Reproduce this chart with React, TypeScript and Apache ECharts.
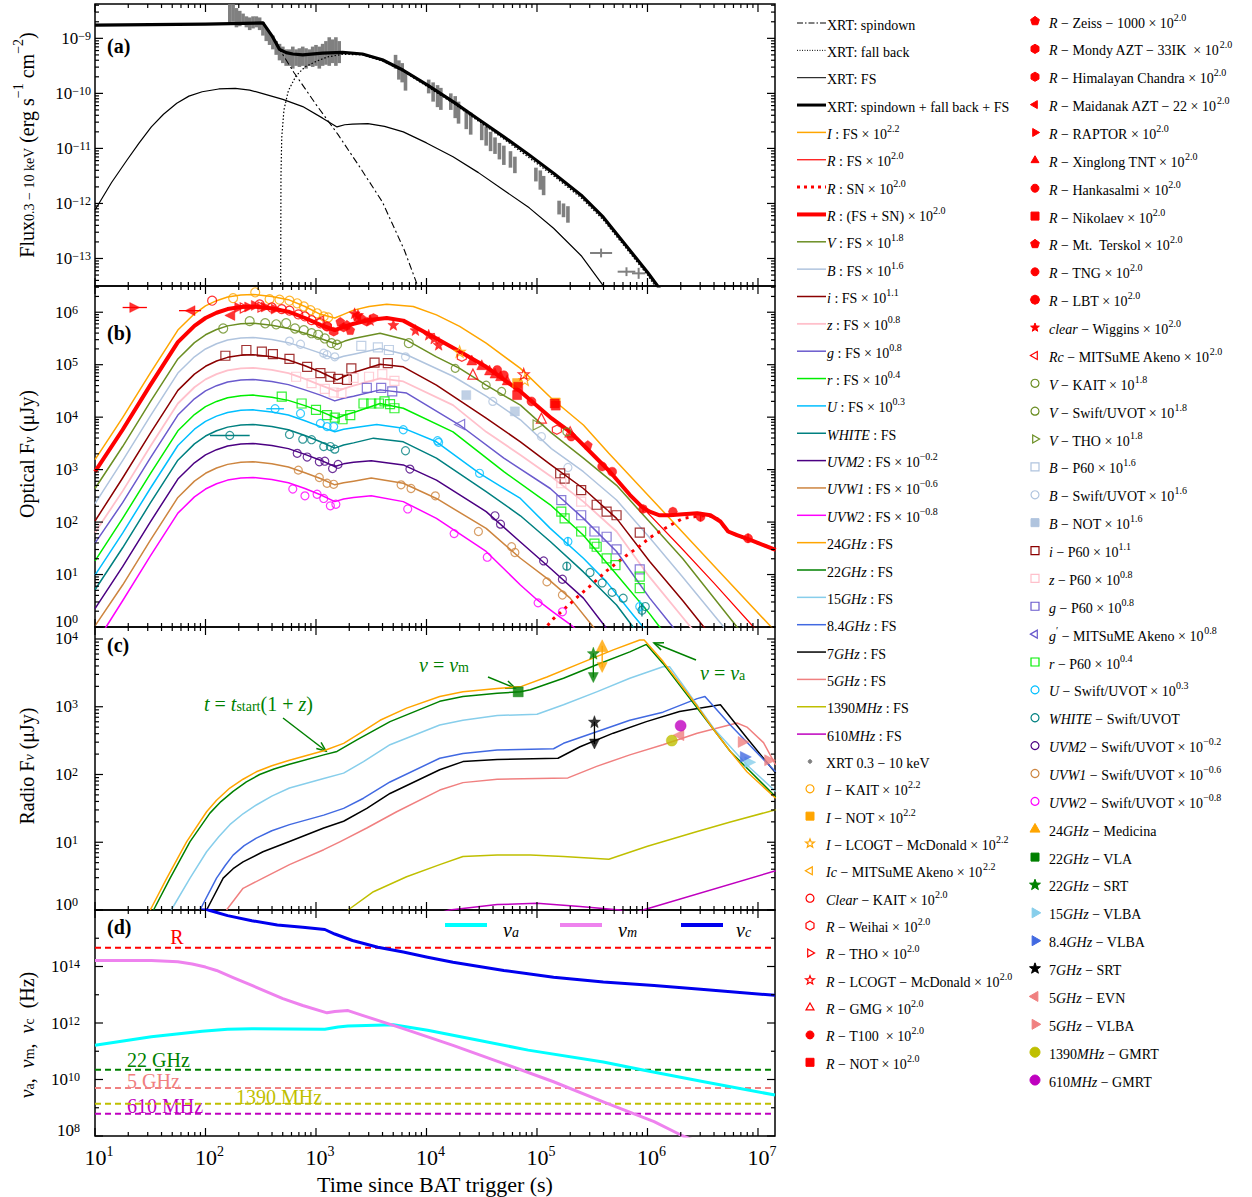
import React, { useEffect, useRef } from "react";
import * as echarts from "echarts";

const SERIF = "'Liberation Serif', 'DejaVu Serif', serif";

// ---------- layout of the four stacked panels ----------
const X_LOG_RANGE = [1, 7.154];
const Y_LOG_RANGES = [[-13.5, -8.376], [0, 6.5], [0, 4.177], [8, 16]];
const PANEL_TOPS = [4, 286, 627, 910];
const PANEL_HEIGHTS = [282, 341, 283, 226];
const PLOT_LEFT = 95;
const PLOT_WIDTH = 680;
const Y_LABEL_GAP = [4, 17, 17, 15];

const COL = {
  orange: "#ffa500", red: "#ff0000", olive: "#6b8e23", lsb: "#b0c4de", darkred: "#8b0000",
  pink: "#ffc0cb", slate: "#6a5acd", lime: "#00ee00", dsb: "#00bfff", teal: "#008080",
  indigo: "#4b0082", peru: "#cd853f", magenta: "#ff00ff", green: "#008000", sky: "#87ceeb",
  royal: "#4169e1", coral: "#f08080", yel: "#bfbf00", mag2: "#bf00bf", gray: "#808080",
  cyan: "#00ffff", violet: "#ee82ee", blue: "#0000ee",
};

// ---------- DATA (log10 t [s], log10 value) ----------
// Panel (a): X-ray model curves
const XRT_SPINDOWN = [[1, -8.76], [2, -8.74], [2.52, -8.72], [2.6, -8.95], [2.67, -9.2], [2.8, -9.62], [3.0, -10.2], [3.2, -10.75], [3.4, -11.35], [3.6, -11.97], [3.8, -12.85], [3.93, -13.55]];
const XRT_FALLBACK = [[2.68, -13.6], [2.683, -11.5], [2.69, -10.8], [2.71, -10.3], [2.75, -9.95], [2.82, -9.68], [2.9, -9.52], [3.0, -9.42], [3.1, -9.34], [3.24, -9.29], [3.42, -9.3], [3.6, -9.41], [3.79, -9.6], [4.01, -9.88], [4.24, -10.18], [4.7, -10.83], [5.15, -11.5], [5.4, -11.9], [5.6, -12.3], [5.8, -12.8], [6.0, -13.3], [6.1, -13.6]];
const XRT_FS = [[1, -12.12], [1.15, -11.62], [1.29, -11.21], [1.4, -10.9], [1.51, -10.61], [1.62, -10.38], [1.74, -10.18], [1.85, -10.05], [1.97, -9.97], [2.12, -9.92], [2.27, -9.91], [2.4, -9.94], [2.51, -10.0], [2.7, -10.11], [2.88, -10.24], [3.06, -10.45], [3.19, -10.61], [3.26, -10.57], [3.33, -10.56], [3.47, -10.55], [3.62, -10.6], [3.79, -10.7], [4.0, -10.9], [4.24, -11.15], [4.47, -11.44], [4.7, -11.76], [4.93, -12.08], [5.15, -12.45], [5.4, -12.95], [5.62, -13.55]];
const XRT_TOTAL = [[1, -8.76], [2, -8.74], [2.52, -8.72], [2.6, -8.95], [2.67, -9.2], [2.73, -9.26], [2.79, -9.285], [2.88, -9.3], [3.06, -9.27], [3.24, -9.255], [3.42, -9.285], [3.6, -9.39], [3.79, -9.58], [4.01, -9.85], [4.24, -10.15], [4.47, -10.47], [4.7, -10.79], [4.93, -11.12], [5.15, -11.45], [5.4, -11.85], [5.6, -12.25], [5.8, -12.75], [6.0, -13.25], [6.11, -13.55]];
// XRT data: [log t, log flux low, log flux high]
const XRT_DATA = [[2.22, -8.75, -8.38], [2.25, -8.7, -8.38], [2.28, -8.8, -8.45], [2.31, -8.78, -8.5], [2.34, -8.75, -8.55], [2.37, -8.8, -8.6], [2.4, -8.85, -8.62], [2.43, -8.82, -8.6], [2.46, -8.8, -8.6], [2.49, -8.85, -8.62], [2.52, -8.95, -8.7], [2.55, -9.05, -8.8], [2.58, -9.12, -8.9], [2.61, -9.2, -8.95], [2.64, -9.3, -9.05], [2.67, -9.4, -9.1], [2.7, -9.45, -9.15], [2.73, -9.5, -9.2], [2.76, -9.5, -9.2], [2.79, -9.55, -9.15], [2.82, -9.5, -9.2], [2.85, -9.52, -9.18], [2.88, -9.5, -9.15], [2.91, -9.55, -9.18], [2.94, -9.5, -9.2], [2.97, -9.52, -9.15], [3.0, -9.5, -9.12], [3.03, -9.55, -9.15], [3.06, -9.5, -9.1], [3.09, -9.48, -9.05], [3.12, -9.5, -8.98], [3.15, -9.45, -9.02], [3.18, -9.5, -8.98], [3.21, -9.45, -9.05], [3.72, -9.55, -9.3], [3.75, -9.75, -9.4], [3.78, -9.8, -9.45], [3.81, -9.95, -9.6], [4.02, -10.0, -9.75], [4.06, -10.15, -9.8], [4.1, -10.25, -9.85], [4.13, -10.3, -9.9], [4.22, -10.3, -10.0], [4.26, -10.45, -10.05], [4.29, -10.55, -10.15], [4.36, -10.65, -10.3], [4.4, -10.75, -10.35], [4.5, -10.85, -10.55], [4.54, -10.95, -10.6], [4.58, -11.05, -10.7], [4.62, -11.1, -10.8], [4.66, -11.2, -10.9], [4.7, -11.3, -10.95], [4.76, -11.35, -11.05], [4.8, -11.45, -11.15], [4.99, -11.6, -11.35], [5.03, -11.75, -11.4], [5.06, -11.85, -11.5], [5.2, -12.2, -11.95], [5.24, -12.25, -12.0], [5.28, -12.35, -12.05]];
// late XRT points with errors: [log t, log F, d log t, d log F]
const XRT_LATE = [[5.58, -12.9, 0.1, 0.08], [5.81, -13.24, 0.08, 0.08], [5.92, -13.27, 0.06, 0.1]];

// Panel (b): optical model curves
const FS_I = [[1, 3.19], [1.25, 3.99], [1.5, 4.84], [1.75, 5.66], [1.9, 5.97], [2, 6.12], [2.1, 6.22], [2.2, 6.29], [2.32, 6.33], [2.43, 6.34], [2.6, 6.3], [2.75, 6.24], [2.9, 6.11], [3.04, 5.96], [3.17, 5.89], [3.25, 5.96], [3.34, 6.04], [3.48, 6.11], [3.64, 6.15], [3.88, 6.11], [4.09, 5.95], [4.3, 5.73], [4.54, 5.41], [4.85, 4.93], [5.13, 4.36], [5.42, 3.85], [5.65, 3.31], [6.02, 2.48], [6.32, 1.8], [6.63, 1.1], [7.12, 0], [7.2, -0.18]];
const FS_R = [[1, 2.96], [1.25, 3.76], [1.5, 4.61], [1.75, 5.43], [1.9, 5.74], [2, 5.89], [2.1, 5.99], [2.2, 6.06], [2.32, 6.1], [2.43, 6.11], [2.6, 6.07], [2.75, 6.01], [2.9, 5.89], [3.04, 5.76], [3.17, 5.66], [3.25, 5.72], [3.34, 5.78], [3.48, 5.85], [3.64, 5.89], [3.79, 5.84], [4.09, 5.5], [4.3, 5.25], [4.54, 4.96], [4.85, 4.49], [5.13, 3.98], [5.3, 3.72], [5.48, 3.34], [5.66, 2.96], [5.84, 2.52], [5.95, 2.29], [6.3, 1.52], [6.6, 0.84], [6.96, 0], [7.05, -0.2]];
const SN_R = [[5.0, -0.2], [5.15, 0.16], [5.24, 0.33], [5.37, 0.58], [5.48, 0.78], [5.63, 1.07], [5.8, 1.35], [5.91, 1.51], [6.02, 1.7], [6.14, 1.86], [6.25, 1.99], [6.32, 2.07], [6.42, 2.1], [6.54, 2.13], [6.63, 2.07], [6.73, 1.82], [6.81, 1.75], [6.93, 1.66], [7.05, 1.56], [7.16, 1.47]];
const FSSN_R = [[1, 2.96], [1.25, 3.76], [1.5, 4.61], [1.75, 5.43], [1.9, 5.74], [2, 5.89], [2.1, 5.99], [2.2, 6.06], [2.32, 6.1], [2.43, 6.11], [2.6, 6.07], [2.75, 6.01], [2.9, 5.89], [3.04, 5.76], [3.17, 5.66], [3.25, 5.72], [3.34, 5.78], [3.48, 5.85], [3.64, 5.89], [3.79, 5.84], [4.09, 5.5], [4.3, 5.25], [4.54, 4.96], [4.85, 4.49], [5.13, 3.98], [5.3, 3.72], [5.48, 3.34], [5.66, 2.96], [5.84, 2.52], [5.95, 2.29], [6.02, 2.2], [6.11, 2.13], [6.2, 2.13], [6.32, 2.15], [6.45, 2.17], [6.57, 2.13], [6.66, 2.01], [6.73, 1.82], [6.81, 1.75], [6.93, 1.66], [7.05, 1.56], [7.16, 1.47]];
const FS_V = [[1, 2.64], [1.25, 3.44], [1.5, 4.29], [1.75, 5.11], [1.9, 5.42], [2, 5.57], [2.1, 5.67], [2.2, 5.74], [2.32, 5.78], [2.43, 5.79], [2.6, 5.75], [2.75, 5.69], [2.9, 5.6], [3.04, 5.5], [3.19, 5.39], [3.26, 5.45], [3.34, 5.5], [3.58, 5.6], [3.82, 5.47], [4.09, 5.15], [4.3, 4.93], [4.54, 4.61], [4.85, 4.23], [5.13, 3.7], [5.42, 3.22], [5.72, 2.7], [6.02, 2.0], [6.32, 1.3], [6.81, 0], [6.9, -0.2]];
const FS_B = [[1, 2.35], [1.25, 3.17], [1.5, 4.02], [1.75, 4.84], [1.9, 5.15], [2, 5.3], [2.1, 5.4], [2.2, 5.47], [2.32, 5.51], [2.43, 5.52], [2.6, 5.48], [2.75, 5.42], [2.9, 5.32], [3.04, 5.22], [3.17, 5.11], [3.25, 5.16], [3.34, 5.2], [3.58, 5.31], [3.82, 5.19], [4.24, 4.78], [4.54, 4.4], [4.85, 3.95], [5.13, 3.4], [5.42, 2.96], [5.72, 2.42], [6.02, 1.7], [6.32, 0.95], [6.69, 0], [6.8, -0.25]];
const FS_i = [[1, 2.02], [1.25, 2.84], [1.5, 3.69], [1.75, 4.51], [1.9, 4.82], [2, 4.97], [2.1, 5.07], [2.2, 5.14], [2.32, 5.18], [2.43, 5.19], [2.6, 5.15], [2.75, 5.09], [2.9, 4.98], [3.04, 4.86], [3.19, 4.71], [3.26, 4.78], [3.34, 4.85], [3.58, 5.01], [3.79, 4.96], [4.09, 4.61], [4.54, 3.98], [4.85, 3.53], [5.12, 3.1], [5.42, 2.64], [5.72, 2.07], [6.02, 1.25], [6.32, 0.5], [6.51, 0], [6.6, -0.2]];
const FS_z = [[1, 1.8], [1.25, 2.59], [1.5, 3.44], [1.75, 4.26], [1.9, 4.57], [2, 4.72], [2.1, 4.82], [2.2, 4.89], [2.32, 4.93], [2.43, 4.94], [2.6, 4.9], [2.75, 4.84], [2.9, 4.73], [3.04, 4.61], [3.19, 4.49], [3.26, 4.55], [3.34, 4.6], [3.58, 4.74], [3.79, 4.68], [4.24, 4.23], [4.54, 3.72], [4.85, 3.28], [5.12, 2.88], [5.42, 2.39], [5.72, 1.82], [6.02, 0.95], [6.39, 0], [6.5, -0.25]];
const FS_g = [[1, 1.6], [1.25, 2.37], [1.5, 3.22], [1.75, 4.04], [1.9, 4.35], [2, 4.5], [2.1, 4.6], [2.2, 4.67], [2.32, 4.71], [2.43, 4.72], [2.6, 4.68], [2.75, 4.62], [2.9, 4.52], [3.04, 4.42], [3.17, 4.31], [3.25, 4.36], [3.34, 4.4], [3.58, 4.52], [3.82, 4.46], [4.3, 3.85], [4.7, 3.22], [5.12, 2.64], [5.42, 2.07], [5.72, 1.44], [6.02, 0.55], [6.23, 0], [6.3, -0.2]];
const FS_r = [[1, 1.26], [1.25, 2.07], [1.5, 2.92], [1.75, 3.74], [1.9, 4.05], [2, 4.2], [2.1, 4.3], [2.2, 4.37], [2.32, 4.41], [2.43, 4.42], [2.6, 4.38], [2.75, 4.32], [2.9, 4.22], [3.04, 4.11], [3.19, 3.98], [3.26, 4.04], [3.34, 4.09], [3.58, 4.26], [3.79, 4.17], [4.24, 3.72], [4.7, 2.96], [5.12, 2.33], [5.42, 1.75], [5.72, 1.0], [6.02, 0.25], [6.11, 0], [6.2, -0.25]];
const FS_U = [[1, 0.99], [1.25, 1.79], [1.5, 2.64], [1.75, 3.46], [1.9, 3.77], [2, 3.92], [2.1, 4.02], [2.2, 4.09], [2.32, 4.13], [2.43, 4.14], [2.6, 4.1], [2.75, 4.04], [2.9, 3.93], [3.04, 3.82], [3.17, 3.72], [3.25, 3.77], [3.34, 3.8], [3.55, 3.86], [3.79, 3.79], [4.09, 3.53], [4.48, 2.93], [4.85, 2.45], [5.12, 1.88], [5.42, 1.31], [5.63, 0.86], [5.87, 0.23], [5.96, 0], [6.05, -0.25]];
const FS_WHITE = [[1, 0.71], [1.25, 1.51], [1.5, 2.36], [1.75, 3.18], [1.9, 3.49], [2, 3.64], [2.1, 3.74], [2.2, 3.81], [2.32, 3.85], [2.43, 3.86], [2.6, 3.82], [2.75, 3.76], [2.9, 3.65], [3.04, 3.53], [3.17, 3.41], [3.25, 3.47], [3.34, 3.51], [3.52, 3.6], [3.79, 3.53], [4.09, 3.22], [4.54, 2.58], [4.85, 2.12], [5.12, 1.63], [5.42, 1.05], [5.72, 0.42], [5.87, 0], [5.95, -0.2]];
const FS_UVM2 = [[1, 0.35], [1.25, 1.15], [1.5, 2.0], [1.75, 2.82], [1.9, 3.13], [2, 3.28], [2.1, 3.38], [2.2, 3.45], [2.32, 3.49], [2.43, 3.5], [2.6, 3.46], [2.75, 3.4], [2.9, 3.29], [3.04, 3.18], [3.17, 3.06], [3.25, 3.11], [3.34, 3.14], [3.5, 3.17], [3.79, 3.09], [4.09, 2.8], [4.54, 2.2], [4.85, 1.62], [5.12, 1.12], [5.42, 0.55], [5.62, 0], [5.7, -0.2]];
const FS_UVW1 = [[1, 0.02], [1.25, 0.8], [1.5, 1.65], [1.75, 2.47], [1.9, 2.78], [2, 2.93], [2.1, 3.03], [2.2, 3.1], [2.32, 3.14], [2.43, 3.15], [2.6, 3.11], [2.75, 3.05], [2.9, 2.94], [3.04, 2.83], [3.17, 2.71], [3.25, 2.75], [3.34, 2.78], [3.5, 2.84], [3.79, 2.74], [4.09, 2.45], [4.54, 1.88], [4.85, 1.31], [5.12, 0.88], [5.3, 0.55], [5.51, 0], [5.6, -0.25]];
const FS_UVW2 = [[1, -0.33], [1.1, 0], [1.25, 0.5], [1.5, 1.35], [1.75, 2.17], [1.9, 2.48], [2, 2.63], [2.1, 2.73], [2.2, 2.8], [2.32, 2.84], [2.43, 2.85], [2.6, 2.81], [2.75, 2.75], [2.9, 2.64], [3.04, 2.52], [3.17, 2.39], [3.25, 2.44], [3.34, 2.47], [3.5, 2.5], [3.79, 2.39], [4.09, 2.07], [4.54, 1.44], [4.85, 0.8], [5.0, 0.52], [5.15, 0.28], [5.3, 0.05], [5.4, -0.12]];

// Panel (b): optical observations
const I_KAIT = [[2.25, 6.27], [2.45, 6.38], [2.58, 6.25], [2.67, 6.24], [2.76, 6.22], [2.83, 6.17], [2.89, 6.11], [2.95, 6.04], [3.01, 5.98], [3.07, 5.92], [3.11, 5.9]];
const I_NOT = [[4.82, 4.65], [5.17, 4.28]];
const I_LCOGT = [[4.3, 5.25], [4.89, 4.71]];
const CLEAR_KAIT = [[2.06, 6.22], [2.49, 6.15], [2.6, 6.09], [2.69, 6.06], [2.76, 6.03], [2.84, 5.96], [2.9, 5.92], [2.96, 5.85], [3.04, 5.79], [3.1, 5.73]];
const R_WEIHAI = [[4.32, 5.15], [5.18, 3.76]];
const R_THO = [[2.36, 6.08], [2.52, 6.1]];
const R_LCOGT = [[4.88, 4.82]];
const R_GMG = [[4.42, 4.82], [5.04, 3.98], [5.3, 3.72]];
const R_T100 = [[4.64, 4.9], [4.7, 4.8], [5.31, 3.63], [5.59, 3.06], [5.68, 2.96]];
const R_NOT = [[4.83, 4.58], [4.82, 4.42], [5.16, 4.26]];
const R_ZEISS = [[3.22, 5.82], [3.28, 5.76], [3.31, 5.66], [3.37, 5.92], [3.41, 5.89]];
const R_MONDY = [[3.1, 5.73], [3.16, 5.63], [3.25, 5.71]];
const R_HIMALAYAN = [[3.46, 5.82], [3.52, 5.89]];
const R_MAIDANAK = [[1.86, 6.03], [2.22, 5.94]];
const R_RAPTOR = [[1.36, 6.09], [2.31, 6.09], [2.4, 6.1], [2.46, 6.13], [2.55, 6.1], [2.64, 6.06]];
const R_XINGLONG = [[4.41, 5.09], [4.5, 5.0], [4.57, 4.9], [4.62, 4.84], [4.67, 4.79], [4.73, 4.71]];
const R_HANKASALMI = [[4.95, 4.3]];
const R_NIKOLAEV = [[5.17, 4.22]];
const R_TERSKOL = [[5.46, 3.47]];
const R_TNG = [[6.48, 2.1], [6.91, 1.69]];
const R_LBT = [[5.96, 2.25], [6.23, 2.2]];
const CLEAR_WIGGINS = [[3.35, 5.98], [3.38, 5.95], [3.49, 5.85], [3.7, 5.76], [3.9, 5.66], [4.02, 5.57], [4.07, 5.5], [4.11, 5.38]];
const RC_MITSUME = [[3.02, 5.83]];
const V_KAIT = [[2.16, 5.69], [2.4, 5.83], [2.54, 5.79], [2.64, 5.77], [2.73, 5.79], [2.81, 5.69], [2.89, 5.66], [2.96, 5.6], [3.02, 5.57], [3.08, 5.5], [3.14, 5.41], [3.19, 5.38], [3.84, 5.41]];
const V_SWIFT = [[4.26, 4.93], [4.54, 4.61], [4.68, 4.49], [5.27, 3.72]];
const V_THO = [[5.01, 3.85]];
const B_P60 = [[3.41, 5.36], [3.56, 5.33], [3.66, 5.28]];
const B_SWIFT = [[2.76, 5.45], [2.86, 5.39], [3.07, 5.22], [3.1, 5.19], [3.17, 5.15], [3.81, 5.15], [4.6, 4.3], [5.04, 3.63], [5.28, 3.04]];
const B_NOT = [[4.36, 4.42], [4.8, 4.11]];
const i_P60 = [[2.18, 5.17], [2.37, 5.28], [2.51, 5.25], [2.61, 5.2], [2.76, 5.11], [2.92, 4.96], [3.04, 4.84], [3.13, 4.77], [3.2, 4.73], [3.28, 4.71], [3.32, 4.93], [3.53, 5.04], [3.65, 5.03], [5.21, 2.93], [5.25, 2.83], [5.4, 2.61], [5.54, 2.33], [5.63, 2.2], [5.72, 2.13], [5.93, 1.8]];
const z_P60 = [[2.82, 4.77], [2.96, 4.65], [3.08, 4.54], [3.16, 4.47], [3.23, 4.46], [3.34, 4.75], [3.48, 4.77], [3.6, 4.82], [3.71, 4.69], [5.22, 2.74], [5.4, 2.39]];
const g_P60 = [[3.46, 4.56], [3.59, 4.56], [3.69, 4.49], [5.22, 2.42], [5.4, 2.13], [5.52, 1.82], [5.63, 1.72], [5.72, 1.48], [5.93, 1.1]];
const g_MITSUME = [[4.3, 3.86]];
const r_P60 = [[2.69, 4.39], [2.87, 4.26], [3.0, 4.14], [3.1, 4.04], [3.17, 3.99], [3.24, 3.96], [3.31, 4.04], [3.43, 4.26], [3.5, 4.26], [3.57, 4.26], [3.62, 4.3], [3.67, 4.25], [3.71, 4.17], [5.22, 2.2], [5.25, 2.07], [5.4, 1.82], [5.52, 1.59], [5.54, 1.53], [5.63, 1.31], [5.71, 1.18], [5.93, 0.96], [5.93, 0.74]];
const U_SWIFT = [[2.63, 4.16], [2.86, 4.07], [3.04, 3.88], [3.1, 3.82], [3.16, 3.82], [3.79, 3.76], [4.1, 3.55], [4.11, 3.52], [4.48, 2.93], [5.28, 1.63], [5.93, 0.39]];
const WHITE_SWIFT = [[2.22, 3.65], [2.76, 3.67], [2.88, 3.58], [2.96, 3.57], [3.07, 3.44], [3.13, 3.44], [3.17, 3.39], [3.81, 3.36], [5.27, 1.16], [5.48, 1.04], [5.59, 0.84], [5.68, 0.66], [5.78, 0.55], [5.98, 0.39], [5.95, 0.32]];
const UVM2_SWIFT = [[2.83, 3.31], [2.92, 3.24], [3.03, 3.15], [3.08, 3.16], [3.15, 3.02], [3.2, 3.1], [3.85, 3.01], [4.62, 2.12], [4.67, 1.96], [5.06, 1.26], [5.23, 0.91]];
const UVW1_SWIFT = [[2.84, 2.99], [3.03, 2.85], [3.1, 2.74], [3.16, 2.72], [3.77, 2.71], [3.86, 2.64], [4.08, 2.5], [4.47, 1.82], [4.77, 1.53], [4.8, 1.42], [5.09, 0.86], [5.23, 0.61]];
const UVW2_SWIFT = [[2.79, 2.63], [2.9, 2.5], [3.01, 2.53], [3.07, 2.45], [3.13, 2.31], [3.18, 2.34], [3.83, 2.25], [4.25, 1.78], [4.55, 1.33], [5.01, 0.46], [5.23, 0.29]];
// error bars [log t, log F, d log t, d log F]
const OPT_ERR_RED = [[1.36, 6.09, 0.11, 0], [1.86, 6.03, 0.1, 0], [6.48, 2.1, 0, 0.09], [6.91, 1.69, 0, 0.09], [5.96, 2.25, 0, 0.06]];
const OPT_ERR_DSB = [[2.63, 4.16, 0.08, 0], [5.28, 1.63, 0, 0.08], [5.93, 0.39, 0, 0.12]];
const OPT_ERR_TEAL = [[2.22, 3.65, 0.18, 0], [5.27, 1.16, 0, 0.08], [5.95, 0.32, 0, 0.12]];

// Panel (c): radio model curves
const R24 = [[1.5, 0], [1.65, 0.47], [1.83, 1.01], [2.01, 1.45], [2.1, 1.62], [2.22, 1.8], [2.34, 1.93], [2.46, 2.04], [2.6, 2.13], [2.76, 2.21], [3.07, 2.35], [3.25, 2.46], [3.37, 2.58], [3.58, 2.8], [3.82, 2.98], [4.12, 3.15], [4.33, 3.22], [4.64, 3.27], [4.86, 3.3], [5.09, 3.44], [5.39, 3.64], [5.69, 3.84], [5.93, 3.985], [5.97, 3.985], [6.14, 3.67], [6.29, 3.35], [6.45, 3.01], [6.6, 2.66], [6.75, 2.34], [6.9, 2.04], [7.16, 1.65]];
const R22 = [[1.53, 0], [1.68, 0.47], [1.86, 1.01], [2.04, 1.43], [2.14, 1.6], [2.25, 1.75], [2.37, 1.89], [2.49, 2.0], [2.62, 2.08], [2.76, 2.15], [3.07, 2.29], [3.19, 2.34], [3.37, 2.51], [3.67, 2.78], [4.12, 3.08], [4.33, 3.15], [4.64, 3.2], [4.85, 3.22], [4.94, 3.25], [5.24, 3.42], [5.54, 3.62], [5.84, 3.81], [5.99, 3.92], [6.14, 3.64], [6.45, 2.98], [6.75, 2.34], [7.16, 1.67]];
const R15 = [[1.69, 0], [1.86, 0.47], [2.01, 0.86], [2.12, 1.08], [2.22, 1.26], [2.34, 1.42], [2.46, 1.55], [2.6, 1.68], [2.76, 1.8], [3.07, 1.94], [3.25, 2.02], [3.43, 2.19], [3.67, 2.44], [4.12, 2.73], [4.33, 2.8], [4.64, 2.87], [5.0, 2.89], [5.24, 3.03], [5.54, 3.22], [5.84, 3.42], [6.14, 3.59], [6.2, 3.59], [6.32, 3.32], [6.6, 2.68], [6.9, 2.14], [7.16, 1.75]];
const R84 = [[1.95, 0], [2.1, 0.47], [2.18, 0.66], [2.25, 0.81], [2.35, 0.95], [2.46, 1.06], [2.6, 1.17], [2.76, 1.26], [3.07, 1.4], [3.25, 1.5], [3.43, 1.65], [3.67, 1.89], [4.12, 2.24], [4.33, 2.31], [4.64, 2.36], [5.15, 2.38], [5.24, 2.46], [5.54, 2.63], [5.84, 2.8], [6.14, 2.92], [6.45, 3.12], [6.52, 3.15], [6.75, 2.73], [7.05, 2.22], [7.16, 2.04]];
const R7 = [[2.01, 0], [2.16, 0.47], [2.25, 0.61], [2.34, 0.71], [2.52, 0.86], [2.76, 1.01], [3.07, 1.21], [3.25, 1.31], [3.46, 1.5], [3.67, 1.72], [4.12, 2.07], [4.33, 2.19], [4.64, 2.22], [5.19, 2.24], [5.39, 2.41], [5.69, 2.61], [5.99, 2.78], [6.29, 2.93], [6.66, 3.03], [6.9, 2.54], [7.16, 2.02]];
const R5 = [[2.19, 0], [2.34, 0.32], [2.52, 0.47], [2.76, 0.67], [3.07, 0.89], [3.22, 1.01], [3.46, 1.21], [3.73, 1.45], [4.12, 1.77], [4.33, 1.88], [4.64, 1.93], [5.28, 1.95], [5.54, 2.12], [5.84, 2.29], [6.14, 2.44], [6.45, 2.61], [6.81, 2.76], [6.9, 2.7], [7.05, 2.47], [7.16, 2.14]];
const R1390 = [[3.29, 0], [3.52, 0.27], [3.82, 0.49], [4.12, 0.67], [4.33, 0.79], [4.64, 0.81], [4.94, 0.81], [5.24, 0.79], [5.65, 0.75], [6.0, 0.94], [6.45, 1.16], [6.75, 1.3], [7.16, 1.48]];
const R610 = [[4.1, -0.05], [4.21, 0], [4.64, 0.08], [5.0, 0.1], [5.39, 0.05], [5.75, 0], [5.86, -0.06], [5.96, 0], [7.16, 0.58]];
// radio observations
const MEDICINA_24 = [[5.59, 3.9]];
const VLA_22 = [[4.83, 3.22]];
const SRT_22 = [[5.51, 3.79]];
const VLBA_15 = [[6.93, 2.18]];
const VLBA_84 = [[6.89, 2.26]];
const SRT_7 = [[5.52, 2.78]];
const EVN_5 = [[6.28, 2.58]];
const VLBA_5 = [[6.87, 2.48], [7.11, 2.21]];
const GMRT_1390 = [[6.22, 2.5]];
const GMRT_610 = [[6.3, 2.72]];
// upper-limit style arrows: [log t, log F from, log F to]
const MEDICINA_ARROW = [[5.59, 3.9, 3.58]];
const SRT22_ARROW = [[5.51, 3.79, 3.43]];
const SRT7_ARROW = [[5.52, 2.78, 2.45]];

// Panel (d): break frequencies
const NU_A = [[1, 11.21], [1.51, 11.51], [1.97, 11.71], [2.2, 11.78], [2.42, 11.8], [3.08, 11.78], [3.2, 11.86], [3.29, 11.89], [3.7, 11.94], [4.01, 11.74], [4.47, 11.39], [4.92, 11.04], [5.6, 10.62], [5.97, 10.33], [6.51, 9.92], [7.154, 9.45]];
const NU_M = [[1, 14.21], [1.51, 14.21], [1.75, 14.17], [1.88, 14.09], [2.0, 13.98], [2.1, 13.86], [2.25, 13.61], [2.42, 13.33], [2.7, 12.86], [2.88, 12.62], [3.1, 12.36], [3.17, 12.41], [3.29, 12.44], [3.42, 12.27], [3.79, 11.8], [4.24, 11.21], [4.7, 10.56], [5.15, 9.92], [5.6, 9.21], [6.06, 8.51], [6.32, 8.0], [6.4, 7.88]];
const NU_C = [[1.95, 16.1], [2.04, 15.98], [2.2, 15.8], [2.42, 15.62], [2.65, 15.47], [2.88, 15.39], [3.08, 15.31], [3.17, 15.15], [3.33, 14.92], [3.56, 14.68], [3.79, 14.51], [4.01, 14.33], [4.24, 14.15], [4.7, 13.86], [5.15, 13.62], [5.6, 13.45], [6.06, 13.33], [6.51, 13.19], [7.154, 12.98]];
const BAND_FREQS = [14.66, 10.342, 9.699, 9.143, 8.785]; // R, 22 GHz, 5 GHz, 1390 MHz, 610 MHz (log Hz)
const BAND_COLORS = [COL.red, COL.green, COL.coral, COL.yel, COL.mag2];

// ---------- helpers ----------
const pw = (v: number) => Math.pow(10, v);
const L = (arr: number[][]) => arr.map((p) => [pw(p[0]), pw(p[1])]);

const regPts = (n: number, r = 1) => Array.from({ length: n }, (_, k) => {
  const a = (-90 + (360 / n) * k) * Math.PI / 180;
  return [r * Math.cos(a), r * Math.sin(a)];
});
const starPts = () => Array.from({ length: 10 }, (_, k) => {
  const a = (-90 + 36 * k) * Math.PI / 180;
  const r = k % 2 === 0 ? 1 : 0.42;
  return [r * Math.cos(a), r * Math.sin(a)];
});
const SHAPES: Record<string, number[][]> = {
  triU: [[0, -1], [0.866, 0.5], [-0.866, 0.5]],
  triD: [[0, 1], [0.866, -0.5], [-0.866, -0.5]],
  triL: [[-1, 0], [0.5, -0.866], [0.5, 0.866]],
  triR: [[1, 0], [-0.5, -0.866], [-0.5, 0.866]],
  star: starPts(),
  pent: regPts(5),
  hex: regPts(6),
  oct: regPts(8),
};
const polyPath = (pts: number[][]) => "path://" + pts.map((p, i) => (i ? "L" : "M") + (p[0] * 10).toFixed(2) + "," + (p[1] * 10).toFixed(2)).join("") + "Z";
const symbolFor = (k: string) => (k === "circle" ? "circle" : k === "square" ? "rect" : polyPath(SHAPES[k]));

function rich(fs: number, color = "#000", lhf = 1.25) {
  const lh = Math.round(fs * lhf);
  const small = Math.round(fs * 0.7);
  return {
    n: { fontSize: fs, fontFamily: SERIF, fill: color, lineHeight: lh, verticalAlign: "bottom" },
    it: { fontSize: fs, fontFamily: SERIF, fontStyle: "italic", fill: color, lineHeight: lh, verticalAlign: "bottom" },
    bo: { fontSize: fs, fontFamily: SERIF, fontWeight: "bold", fill: color, lineHeight: lh, verticalAlign: "bottom" },
    sp: { fontSize: small, fontFamily: SERIF, fill: color, lineHeight: small, verticalAlign: "top" },
    sb: { fontSize: small, fontFamily: SERIF, fill: color, lineHeight: small, verticalAlign: "bottom" },
    sbi: { fontSize: small, fontFamily: SERIF, fontStyle: "italic", fill: color, lineHeight: small, verticalAlign: "bottom" },
  };
}
const N = (t: string) => `{n|${t}}`;
const I = (t: string) => `{it|${t}}`;
const S = (t: string) => `{sp|${t}}`;
const B = (t: string) => `{sb|${t}}`;
const expStr = (e: number) => (e < 0 ? "−" + Math.abs(e) : String(e));

function seg(x1: number, y1: number, x2: number, y2: number, stroke = "#000", lineWidth = 1.2, lineDash?: number[]) {
  return { type: "line", shape: { x1, y1, x2, y2 }, style: { stroke, lineWidth, lineDash } };
}

function legSym(kind: string, cx: number, cy: number, r: number, color: string, filled: boolean) {
  const style = filled ? { fill: color, stroke: color, lineWidth: 1 } : { fill: "rgba(0,0,0,0)", stroke: color, lineWidth: 1.2 };
  if (kind === "circle") return { type: "circle", shape: { cx, cy, r }, style };
  if (kind === "square") return { type: "rect", shape: { x: cx - r, y: cy - r, width: 2 * r, height: 2 * r }, style };
  return { type: "polygon", shape: { points: SHAPES[kind].map(([a, b]) => [cx + a * r * 1.15, cy + b * r * 1.15]) }, style };
}

function arrowEls(x1: number, y1: number, x2: number, y2: number, color: string) {
  const th = Math.atan2(y2 - y1, x2 - x1);
  const hl = 10, ha = 0.4;
  const p1 = [x2 - hl * Math.cos(th - ha), y2 - hl * Math.sin(th - ha)];
  const p2 = [x2 - hl * Math.cos(th + ha), y2 - hl * Math.sin(th + ha)];
  return [
    seg(x1, y1, x2, y2, color, 1.5),
    { type: "polyline", shape: { points: [p1, [x2, y2], p2] }, style: { stroke: color, lineWidth: 1.5, fill: null } },
  ];
}

// ---------- legend entries ----------
type Leg = { t: string; line?: { c: string; w: number; d?: number[] }; sym?: { k: string; c: string; f: boolean; r?: number } };
const FSx = (band: string, e: string) => I(band) + N(" : FS × 10") + S(e);
const OBS = (band: string, name: string, e?: string) => I(band) + N(" − " + name + (e ? " × 10" : "")) + (e ? S(e) : "");
const GHZ = (num: string, unit: string, rest: string) => N(num) + I(unit) + N(rest);

const LEGEND_COL1: Leg[] = [
  { t: N("XRT: spindown"), line: { c: "#000", w: 1, d: [6, 2, 1.5, 2] } },
  { t: N("XRT: fall back"), line: { c: "#000", w: 1, d: [1, 1.5] } },
  { t: N("XRT: FS"), line: { c: "#000", w: 1 } },
  { t: N("XRT: spindown + fall back + FS"), line: { c: "#000", w: 3 } },
  { t: FSx("I", "2.2"), line: { c: COL.orange, w: 1.5 } },
  { t: FSx("R", "2.0"), line: { c: COL.red, w: 1.2 } },
  { t: I("R") + N(" : SN × 10") + S("2.0"), line: { c: COL.red, w: 3, d: [3, 4] } },
  { t: I("R") + N(" : (FS + SN) × 10") + S("2.0"), line: { c: COL.red, w: 4 } },
  { t: FSx("V", "1.8"), line: { c: COL.olive, w: 1.5 } },
  { t: FSx("B", "1.6"), line: { c: COL.lsb, w: 1.5 } },
  { t: FSx("i", "1.1"), line: { c: COL.darkred, w: 1.5 } },
  { t: FSx("z", "0.8"), line: { c: COL.pink, w: 1.8 } },
  { t: FSx("g", "0.8"), line: { c: COL.slate, w: 1.5 } },
  { t: FSx("r", "0.4"), line: { c: COL.lime, w: 1.5 } },
  { t: FSx("U", "0.3"), line: { c: COL.dsb, w: 1.5 } },
  { t: I("WHITE") + N(" : FS"), line: { c: COL.teal, w: 1.5 } },
  { t: FSx("UVM2", "−0.2"), line: { c: COL.indigo, w: 1.5 } },
  { t: FSx("UVW1", "−0.6"), line: { c: COL.peru, w: 1.5 } },
  { t: FSx("UVW2", "−0.8"), line: { c: COL.magenta, w: 1.5 } },
  { t: GHZ("24", "GHz", " : FS"), line: { c: COL.orange, w: 1.5 } },
  { t: GHZ("22", "GHz", " : FS"), line: { c: COL.green, w: 1.5 } },
  { t: GHZ("15", "GHz", " : FS"), line: { c: COL.sky, w: 1.5 } },
  { t: GHZ("8.4", "GHz", " : FS"), line: { c: COL.royal, w: 1.5 } },
  { t: GHZ("7", "GHz", " : FS"), line: { c: "#000", w: 1.5 } },
  { t: GHZ("5", "GHz", " : FS"), line: { c: COL.coral, w: 1.5 } },
  { t: GHZ("1390", "MHz", " : FS"), line: { c: COL.yel, w: 1.5 } },
  { t: GHZ("610", "MHz", " : FS"), line: { c: COL.mag2, w: 1.5 } },
  { t: N("XRT 0.3 − 10 keV"), sym: { k: "circle", c: COL.gray, f: true, r: 1.8 } },
  { t: OBS("I", "KAIT", "2.2"), sym: { k: "circle", c: COL.orange, f: false } },
  { t: OBS("I", "NOT", "2.2"), sym: { k: "square", c: COL.orange, f: true } },
  { t: OBS("I", "LCOGT − McDonald", "2.2"), sym: { k: "star", c: COL.orange, f: false } },
  { t: OBS("Ic", "MITSuME Akeno", "2.2"), sym: { k: "triL", c: COL.orange, f: false } },
  { t: OBS("Clear", "KAIT", "2.0"), sym: { k: "circle", c: COL.red, f: false } },
  { t: OBS("R", "Weihai", "2.0"), sym: { k: "hex", c: COL.red, f: false } },
  { t: OBS("R", "THO", "2.0"), sym: { k: "triR", c: COL.red, f: false } },
  { t: OBS("R", "LCOGT − McDonald", "2.0"), sym: { k: "star", c: COL.red, f: false } },
  { t: OBS("R", "GMG", "2.0"), sym: { k: "triU", c: COL.red, f: false } },
  { t: OBS("R", "T100 ", "2.0"), sym: { k: "circle", c: COL.red, f: true } },
  { t: OBS("R", "NOT", "2.0"), sym: { k: "square", c: COL.red, f: true } },
];
const LEGEND_COL2: Leg[] = [
  { t: OBS("R", "Zeiss − 1000", "2.0"), sym: { k: "pent", c: COL.red, f: true } },
  { t: OBS("R", "Mondy AZT − 33IK ", "2.0"), sym: { k: "hex", c: COL.red, f: true } },
  { t: OBS("R", "Himalayan Chandra", "2.0"), sym: { k: "hex", c: COL.red, f: true } },
  { t: OBS("R", "Maidanak AZT − 22", "2.0"), sym: { k: "triL", c: COL.red, f: true } },
  { t: OBS("R", "RAPTOR", "2.0"), sym: { k: "triR", c: COL.red, f: true } },
  { t: OBS("R", "Xinglong TNT", "2.0"), sym: { k: "triU", c: COL.red, f: true } },
  { t: OBS("R", "Hankasalmi", "2.0"), sym: { k: "circle", c: COL.red, f: true } },
  { t: OBS("R", "Nikolaev", "2.0"), sym: { k: "square", c: COL.red, f: true } },
  { t: OBS("R", "Mt.  Terskol", "2.0"), sym: { k: "pent", c: COL.red, f: true } },
  { t: OBS("R", "TNG", "2.0"), sym: { k: "circle", c: COL.red, f: true } },
  { t: OBS("R", "LBT", "2.0"), sym: { k: "oct", c: COL.red, f: true } },
  { t: OBS("clear", "Wiggins", "2.0"), sym: { k: "star", c: COL.red, f: true } },
  { t: OBS("Rc", "MITSuME Akeno", "2.0"), sym: { k: "triL", c: COL.red, f: false } },
  { t: OBS("V", "KAIT", "1.8"), sym: { k: "circle", c: COL.olive, f: false } },
  { t: OBS("V", "Swift/UVOT", "1.8"), sym: { k: "circle", c: COL.olive, f: false } },
  { t: OBS("V", "THO", "1.8"), sym: { k: "triR", c: COL.olive, f: false } },
  { t: OBS("B", "P60", "1.6"), sym: { k: "square", c: COL.lsb, f: false } },
  { t: OBS("B", "Swift/UVOT", "1.6"), sym: { k: "circle", c: COL.lsb, f: false } },
  { t: OBS("B", "NOT", "1.6"), sym: { k: "square", c: COL.lsb, f: true } },
  { t: OBS("i", "P60", "1.1"), sym: { k: "square", c: COL.darkred, f: false } },
  { t: OBS("z", "P60", "0.8"), sym: { k: "square", c: COL.pink, f: false } },
  { t: OBS("g", "P60", "0.8"), sym: { k: "square", c: COL.slate, f: false } },
  { t: I("g") + S("′") + N(" − MITSuME Akeno × 10") + S("0.8"), sym: { k: "triL", c: COL.slate, f: false } },
  { t: OBS("r", "P60", "0.4"), sym: { k: "square", c: COL.lime, f: false } },
  { t: OBS("U", "Swift/UVOT", "0.3"), sym: { k: "circle", c: COL.dsb, f: false } },
  { t: OBS("WHITE", "Swift/UVOT"), sym: { k: "circle", c: COL.teal, f: false } },
  { t: OBS("UVM2", "Swift/UVOT", "−0.2"), sym: { k: "circle", c: COL.indigo, f: false } },
  { t: OBS("UVW1", "Swift/UVOT", "−0.6"), sym: { k: "circle", c: COL.peru, f: false } },
  { t: OBS("UVW2", "Swift/UVOT", "−0.8"), sym: { k: "circle", c: COL.magenta, f: false } },
  { t: GHZ("24", "GHz", " − Medicina"), sym: { k: "triU", c: COL.orange, f: true, r: 5 } },
  { t: GHZ("22", "GHz", " − VLA"), sym: { k: "square", c: COL.green, f: true } },
  { t: GHZ("22", "GHz", " − SRT"), sym: { k: "star", c: COL.green, f: true, r: 5 } },
  { t: GHZ("15", "GHz", " − VLBA"), sym: { k: "triR", c: COL.sky, f: true, r: 5 } },
  { t: GHZ("8.4", "GHz", " − VLBA"), sym: { k: "triR", c: COL.royal, f: true, r: 5 } },
  { t: GHZ("7", "GHz", " − SRT"), sym: { k: "star", c: "#000", f: true, r: 5 } },
  { t: GHZ("5", "GHz", " − EVN"), sym: { k: "triL", c: COL.coral, f: true, r: 5 } },
  { t: GHZ("5", "GHz", " − VLBA"), sym: { k: "triR", c: COL.coral, f: true, r: 5 } },
  { t: GHZ("1390", "MHz", " − GMRT"), sym: { k: "circle", c: COL.yel, f: true, r: 5 } },
  { t: GHZ("610", "MHz", " − GMRT"), sym: { k: "circle", c: COL.mag2, f: true, r: 5 } },
];

// ---------- option ----------
function buildOption() {
  const series: any[] = [];
  const lineS = (g: number, data: number[][], color: string, width: number, dash?: any, z = 2) => {
    series.push({
      type: "line", xAxisIndex: g, yAxisIndex: g, data: L(data), symbol: "none", showSymbol: false,
      smooth: false, clip: true, silent: true, z,
      lineStyle: { color, width, type: dash || "solid", cap: "butt", join: "round" },
    });
  };
  const scat = (g: number, data: number[][], kind: string, color: string, filled: boolean, size = 8, z = 6) => {
    series.push({
      type: "scatter", xAxisIndex: g, yAxisIndex: g, data: L(data), symbol: symbolFor(kind), symbolSize: size,
      clip: true, silent: true, z,
      itemStyle: filled ? { color, borderColor: color, borderWidth: 0.5 } : { color: "rgba(255,255,255,0)", borderColor: color, borderWidth: 1.2 },
    });
  };
  const errS = (g: number, items: number[][], color: string, width = 1.2) => {
    series.push({
      type: "custom", xAxisIndex: g, yAxisIndex: g, silent: true, z: 5,
      data: items.map(([a, b, da, db]) => [pw(a), pw(b), pw(a - da), pw(a + da), pw(b - db), pw(b + db)]),
      renderItem: (params: any, api: any) => {
        const x = api.value(0), y = api.value(1);
        const ch: any[] = [];
        const p1 = api.coord([api.value(2), y]), p2 = api.coord([api.value(3), y]);
        if (Math.abs(p2[0] - p1[0]) > 0.5) ch.push(seg(p1[0], p1[1], p2[0], p2[1], color, width));
        const q1 = api.coord([x, api.value(4)]), q2 = api.coord([x, api.value(5)]);
        if (Math.abs(q2[1] - q1[1]) > 0.5) ch.push(seg(q1[0], q1[1], q2[0], q2[1], color, width));
        return { type: "group", children: ch };
      },
    });
  };
  const vbarS = (g: number, items: number[][], color: string, width: number, z = 1) => {
    series.push({
      type: "custom", xAxisIndex: g, yAxisIndex: g, silent: true, z,
      data: items.map(([t, lo, hi]) => [pw(t), pw(lo), pw(hi)]),
      renderItem: (params: any, api: any) => {
        const a = api.coord([api.value(0), api.value(1)]);
        const b = api.coord([api.value(0), api.value(2)]);
        return seg(a[0], a[1], b[0], b[1], color, width);
      },
    });
  };

  // ---- panel (a)
  vbarS(0, XRT_DATA, COL.gray, 3.6, 1);
  errS(0, XRT_LATE, COL.gray, 2);
  lineS(0, XRT_FS, "#000", 1.2, "solid", 2);
  lineS(0, XRT_SPINDOWN, "#000", 1.1, [7, 3, 2, 3], 2);
  lineS(0, XRT_FALLBACK, "#000", 1.2, [1.5, 2], 2);
  lineS(0, XRT_TOTAL, "#000", 3.2, "solid", 3);

  // ---- panel (b) model curves
  const optCurves: [number[][], string, number][] = [
    [FS_I, COL.orange, 1.5], [FS_R, COL.red, 1.2], [FS_V, COL.olive, 1.5], [FS_B, COL.lsb, 1.5],
    [FS_i, COL.darkred, 1.5], [FS_z, COL.pink, 1.8], [FS_g, COL.slate, 1.5], [FS_r, COL.lime, 1.5],
    [FS_U, COL.dsb, 1.5], [FS_WHITE, COL.teal, 1.5], [FS_UVM2, COL.indigo, 1.5], [FS_UVW1, COL.peru, 1.5],
    [FS_UVW2, COL.magenta, 1.5],
  ];
  optCurves.forEach(([d, c, w]) => lineS(1, d, c, w, "solid", 2));
  lineS(1, SN_R, COL.red, 3, [3, 5], 3);
  lineS(1, FSSN_R, COL.red, 4, "solid", 3);

  // ---- panel (b) observations
  errS(1, OPT_ERR_RED, COL.red, 1.3);
  errS(1, OPT_ERR_DSB, COL.dsb, 1.3);
  errS(1, OPT_ERR_TEAL, COL.teal, 1.3);
  const optSets: [number[][], string, string, boolean, number][] = [
    [I_KAIT, "circle", COL.orange, false, 9], [I_NOT, "square", COL.orange, true, 9], [I_LCOGT, "star", COL.orange, false, 11],
    [CLEAR_KAIT, "circle", COL.red, false, 9], [R_WEIHAI, "hex", COL.red, false, 9], [R_THO, "triR", COL.red, false, 10],
    [R_LCOGT, "star", COL.red, false, 11], [R_GMG, "triU", COL.red, false, 10], [R_T100, "circle", COL.red, true, 9],
    [R_NOT, "square", COL.red, true, 9], [R_ZEISS, "pent", COL.red, true, 9], [R_MONDY, "hex", COL.red, true, 9],
    [R_HIMALAYAN, "hex", COL.red, true, 9], [R_MAIDANAK, "triL", COL.red, true, 10], [R_RAPTOR, "triR", COL.red, true, 10],
    [R_XINGLONG, "triU", COL.red, true, 10], [R_HANKASALMI, "circle", COL.red, true, 9], [R_NIKOLAEV, "square", COL.red, true, 9],
    [R_TERSKOL, "pent", COL.red, true, 9], [R_TNG, "circle", COL.red, true, 9], [R_LBT, "oct", COL.red, true, 9],
    [CLEAR_WIGGINS, "star", COL.red, true, 11], [RC_MITSUME, "triL", COL.red, false, 10],
    [V_KAIT, "circle", COL.olive, false, 9], [V_SWIFT, "circle", COL.olive, false, 8], [V_THO, "triR", COL.olive, false, 10],
    [B_P60, "square", COL.lsb, false, 9], [B_SWIFT, "circle", COL.lsb, false, 8], [B_NOT, "square", COL.lsb, true, 9],
    [i_P60, "square", COL.darkred, false, 9], [z_P60, "square", COL.pink, false, 9], [g_P60, "square", COL.slate, false, 9],
    [g_MITSUME, "triL", COL.slate, false, 10], [r_P60, "square", COL.lime, false, 9],
    [U_SWIFT, "circle", COL.dsb, false, 8], [WHITE_SWIFT, "circle", COL.teal, false, 8], [UVM2_SWIFT, "circle", COL.indigo, false, 8],
    [UVW1_SWIFT, "circle", COL.peru, false, 8], [UVW2_SWIFT, "circle", COL.magenta, false, 8],
  ];
  optSets.forEach(([d, k, c, f, s]) => scat(1, d, k, c, f, s));

  // ---- panel (c) radio
  const radioCurves: [number[][], string][] = [
    [R610, COL.mag2], [R1390, COL.yel], [R5, COL.coral], [R7, "#000"], [R84, COL.royal], [R15, COL.sky], [R22, COL.green], [R24, COL.orange],
  ];
  radioCurves.forEach(([d, c]) => lineS(2, d, c, 1.5, "solid", 2));
  vbarS(2, MEDICINA_ARROW, COL.orange, 1.3, 5);
  vbarS(2, SRT22_ARROW, COL.green, 1.3, 5);
  vbarS(2, SRT7_ARROW, "#000", 1.3, 5);
  scat(2, MEDICINA_ARROW.map((p) => [p[0], p[2]]), "triD", COL.orange, true, 10);
  scat(2, SRT22_ARROW.map((p) => [p[0], p[2]]), "triD", COL.green, true, 10);
  scat(2, SRT7_ARROW.map((p) => [p[0], p[2]]), "triD", "#000", true, 10);
  scat(2, MEDICINA_24, "triU", COL.orange, true, 12);
  scat(2, VLA_22, "square", COL.green, true, 10);
  scat(2, SRT_22, "star", COL.green, true, 12);
  scat(2, VLBA_15, "triR", COL.sky, true, 11);
  scat(2, VLBA_84, "triR", COL.royal, true, 11);
  scat(2, SRT_7, "star", "#000", true, 12);
  scat(2, EVN_5, "triL", COL.coral, true, 11);
  scat(2, VLBA_5, "triR", COL.coral, true, 11);
  scat(2, GMRT_1390, "circle", COL.yel, true, 11);
  scat(2, GMRT_610, "circle", COL.mag2, true, 11);

  // ---- panel (d)
  BAND_FREQS.forEach((f, i) => lineS(3, [[X_LOG_RANGE[0], f], [X_LOG_RANGE[1], f]], BAND_COLORS[i], 2, [6, 4], 2));
  lineS(3, NU_A, COL.cyan, 3, "solid", 3);
  lineS(3, NU_M, COL.violet, 3, "solid", 3);
  lineS(3, NU_C, COL.blue, 3, "solid", 3);

  // ---- ticks and tick labels (through each panel's scales)
  const TICK_RICH_Y = { b: { fontSize: 17, fontFamily: SERIF, fill: "#000", lineHeight: 17, verticalAlign: "bottom" }, s: { fontSize: 12, fontFamily: SERIF, fill: "#000", lineHeight: 9, verticalAlign: "top" } };
  const TICK_RICH_X = { b: { fontSize: 22, fontFamily: SERIF, fill: "#000", lineHeight: 24, verticalAlign: "bottom" }, s: { fontSize: 14, fontFamily: SERIF, fill: "#000", lineHeight: 12, verticalAlign: "top" } };
  const xMaxVal = pw(X_LOG_RANGE[1]);
  for (let g = 0; g < 4; g++) {
    const [ylo, yhi] = Y_LOG_RANGES[g];
    const yRef = pw((ylo + yhi) / 2);
    const xData: number[][] = [];
    for (let k = 1; k <= 7; k++) {
      xData.push([pw(k), yRef, 1]);
      for (let m = 2; m <= 9; m++) { const v = m * pw(k); if (v < xMaxVal) xData.push([v, yRef, 0]); }
    }
    const withXLabels = g === 3;
    series.push({
      type: "custom", xAxisIndex: g, yAxisIndex: g, silent: true, z: 10, data: xData,
      renderItem: (params: any, api: any) => {
        const cs = params.coordSys;
        const v = api.value(0);
        const major = api.value(2) === 1;
        const px = api.coord([v, api.value(1)])[0];
        const len = major ? 8 : 4;
        const bottom = cs.y + cs.height;
        const ch: any[] = [seg(px, bottom, px, bottom - len, "#000", 1.2), seg(px, cs.y, px, cs.y + len, "#000", 1.2)];
        if (withXLabels && major) {
          ch.push({ type: "text", x: px + 4, y: bottom + 8, style: { text: `{b|10}{s|${expStr(Math.round(Math.log10(v)))}}`, rich: TICK_RICH_X, align: "center", verticalAlign: "top" } });
        }
        return { type: "group", children: ch };
      },
    });
    const xRef = pw(3);
    const yData: number[][] = [];
    for (let k = Math.ceil(ylo); k <= Math.floor(yhi); k++) {
      if (g === 3) {
        yData.push([xRef, pw(k), k % 2 === 0 ? 1 : 0, k % 2 === 0 && k <= 14 ? 1 : 0]);
      } else {
        yData.push([xRef, pw(k), 1, 1]);
      }
    }
    if (g !== 3) {
      for (let k = Math.floor(ylo); k <= Math.floor(yhi); k++) {
        for (let m = 2; m <= 9; m++) {
          const lv = k + Math.log10(m);
          if (lv > ylo && lv < yhi) yData.push([xRef, pw(lv), 0, 0]);
        }
      }
    }
    const gap = Y_LABEL_GAP[g];
    series.push({
      type: "custom", xAxisIndex: g, yAxisIndex: g, silent: true, z: 10, data: yData,
      renderItem: (params: any, api: any) => {
        const cs = params.coordSys;
        const v = api.value(1);
        const major = api.value(2) === 1;
        const py = api.coord([api.value(0), v])[1];
        const len = major ? 8 : 4;
        const right = cs.x + cs.width;
        const bottom = cs.y + cs.height;
        const ch: any[] = [seg(cs.x, py, cs.x + len, py, "#000", 1.2), seg(right, py, right - len, py, "#000", 1.2)];
        if (api.value(3) === 1) {
          const ly = Math.abs(py - bottom) < 1 ? py - 6 : py;
          ch.push({ type: "text", x: cs.x - gap, y: ly, style: { text: `{b|10}{s|${expStr(Math.round(Math.log10(v)))}}`, rich: TICK_RICH_Y, align: "right", verticalAlign: "middle" } });
        }
        return { type: "group", children: ch };
      },
    });
  }

  // ---- graphic: titles, annotations, legend
  const els: any[] = [];
  const R20 = rich(20);
  const titleY = (y: number, text: string) => els.push({ type: "text", x: 24, y, rotation: Math.PI / 2, style: { text, rich: R20, align: "center", verticalAlign: "middle" } });
  titleY(145, N("Flux") + B("0.3 − 10 keV") + N(" (erg s") + S("−1") + N(" cm") + S("−2") + N(")"));
  titleY(454, N("Optical F") + "{sbi|ν}" + N(" (μJy)"));
  titleY(766, N("Radio F") + "{sbi|ν}" + N(" (μJy)"));
  titleY(1035, I("ν") + B("a") + N(",  ") + I("ν") + B("m") + N(",  ") + I("ν") + B("c") + N("  (Hz)"));
  els.push({ type: "text", x: 435, y: 1181, style: { text: N("Time since BAT trigger (s)"), rich: rich(22), align: "center", verticalAlign: "middle" } });
  [["(a)", 43], ["(b)", 330], ["(c)", 642], ["(d)", 924]].forEach(([t, y]) => {
    els.push({ type: "text", x: 107, y: y as number, style: { text: `{bo|${t}}`, rich: rich(20), align: "left", verticalAlign: "middle" } });
  });
  // panel (c) annotations
  const RG = rich(20, COL.green);
  els.push({ type: "text", x: 204, y: 701, style: { text: I("t") + N(" = ") + I("t") + "{sb|start}" + N("(1 + ") + I("z") + N(")"), rich: RG, align: "left", verticalAlign: "middle" } });
  els.push(...arrowEls(283, 718, 326, 751, COL.green));
  els.push({ type: "text", x: 419, y: 662, style: { text: I("ν") + N(" = ") + I("ν") + B("m"), rich: RG, align: "left", verticalAlign: "middle" } });
  els.push(...arrowEls(488, 677, 515, 688, COL.green));
  els.push({ type: "text", x: 700, y: 670, style: { text: I("ν") + N(" = ") + I("ν") + B("a"), rich: RG, align: "left", verticalAlign: "middle" } });
  els.push(...arrowEls(696, 660, 654, 643, COL.green));
  // panel (d) labels and legend
  const bandLabel = (text: string, x: number, y: number, color: string, align = "left") =>
    els.push({ type: "text", x, y, style: { text: N(text), rich: rich(20, color, 0.95), align, verticalAlign: "middle" } });
  bandLabel("R", 177, 937, COL.red, "center");
  bandLabel("22 GHz", 127, 1060, COL.green);
  bandLabel("5 GHz", 127, 1081, COL.coral);
  bandLabel("610 MHz", 127, 1106, COL.mag2);
  bandLabel("1390 MHz", 236, 1097, COL.yel);
  [[445, 503, COL.cyan, "a"], [560, 618, COL.violet, "m"], [681, 736, COL.blue, "c"]].forEach(([x, tx, c, sub]) => {
    els.push(seg(x as number, 925, (x as number) + 42, 925, c as string, 4));
    els.push({ type: "text", x: tx as number, y: 927, style: { text: I("ν") + "{sbi|" + sub + "}", rich: rich(20), align: "left", verticalAlign: "middle" } });
  });
  // right-hand legend
  const RL = rich(14);
  LEGEND_COL1.forEach((e, i) => {
    const y = 23 + i * 27.35;
    if (e.line) els.push(seg(797, y, 826, y, e.line.c, e.line.w, e.line.d));
    if (e.sym) els.push(legSym(e.sym.k, 810, y, e.sym.r || 4, e.sym.c, e.sym.f));
    els.push({ type: "text", x: e.line ? 827 : 826, y, style: { text: e.t, rich: RL, align: "left", verticalAlign: "middle" } });
  });
  LEGEND_COL2.forEach((e, i) => {
    const y = 21 + i * 27.87;
    if (e.sym) els.push(legSym(e.sym.k, 1035, y, e.sym.r || 4, e.sym.c, e.sym.f));
    els.push({ type: "text", x: 1049, y, style: { text: e.t, rich: RL, align: "left", verticalAlign: "middle" } });
  });

  return {
    animation: false,
    backgroundColor: "#fff",
    grid: PANEL_TOPS.map((top, i) => ({ left: PLOT_LEFT, width: PLOT_WIDTH, top, height: PANEL_HEIGHTS[i], show: true, borderColor: "#000", borderWidth: 1.5, backgroundColor: "rgba(0,0,0,0)", containLabel: false })),
    xAxis: PANEL_TOPS.map((_, i) => ({ type: "log", logBase: 10, gridIndex: i, min: pw(X_LOG_RANGE[0]), max: pw(X_LOG_RANGE[1]), show: false })),
    yAxis: Y_LOG_RANGES.map((r, i) => ({ type: "log", logBase: 10, gridIndex: i, min: pw(r[0]), max: pw(r[1]), show: false })),
    series,
    graphic: { elements: els },
  };
}

export default function App() {
  const ref = useRef<HTMLDivElement>(null);
  useEffect(() => {
    document.body.style.margin = "0";
    const chart = echarts.init(ref.current as HTMLDivElement, null, { renderer: "svg" });
    chart.setOption(buildOption() as any);
    return () => chart.dispose();
  }, []);
  return <div ref={ref} style={{ width: 1252, height: 1197, background: "#fff" }} />;
}
